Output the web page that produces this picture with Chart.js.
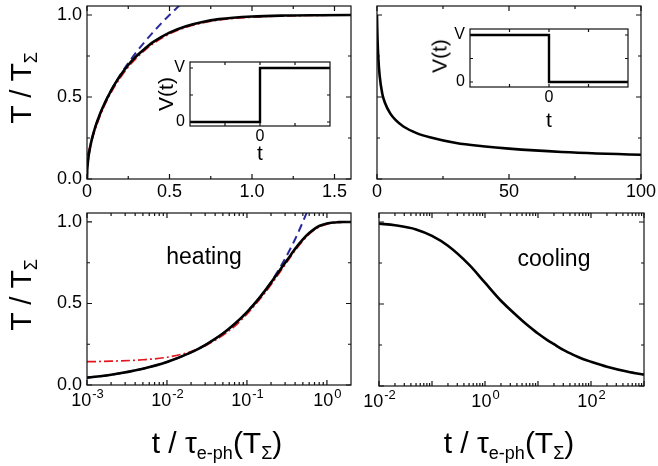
<!DOCTYPE html>
<html>
<head>
<meta charset="utf-8">
<script src="https://cdn.jsdelivr.net/npm/chart.js@4.4.1/dist/chart.umd.min.js"></script>
<style>
  body { margin: 0; background: #fff; }
  #fig { position: relative; width: 658px; height: 466px; overflow: hidden;
         font-family: Arial, "Liberation Sans", Helvetica, sans-serif; color: #000; }
  #fig canvas { position: absolute; left: 0; top: 0; }
  .lbl { position: absolute; white-space: nowrap; line-height: 1; transform: translate(-50%, -50%); }
  .rot { transform: translate(-50%, -50%) rotate(-90deg); }
  .lbl sub { font-size: 60%; line-height: 0; vertical-align: -0.35em; }
</style>
</head>
<body>
<div id="fig">
  <canvas id="tl" width="658" height="466"></canvas>
  <canvas id="tr" width="658" height="466"></canvas>
  <canvas id="bl" width="658" height="466"></canvas>
  <canvas id="br" width="658" height="466"></canvas>
  <canvas id="tlInset" width="658" height="466"></canvas>
  <canvas id="trInset" width="658" height="466"></canvas>

  <div class="lbl rot" style="left:21px; top:88px; font-size:30px;">T / T<sub>Σ</sub></div>
  <div class="lbl rot" style="left:21px; top:295px; font-size:30px;">T / T<sub>Σ</sub></div>
  <div class="lbl" style="left:217px; top:443px; font-size:30px;">t / τ<sub>e-ph</sub>(T<sub>Σ</sub>)</div>
  <div class="lbl" style="left:509px; top:443px; font-size:30px;">t / τ<sub>e-ph</sub>(T<sub>Σ</sub>)</div>

  <div class="lbl" style="left:204px; top:256px; font-size:23px;">heating</div>
  <div class="lbl" style="left:554px; top:258px; font-size:23px;">cooling</div>

  <div class="lbl rot" style="left:165px; top:94px; font-size:21px;">V(t)</div>
  <div class="lbl" style="left:260px; top:152px; font-size:21px;">t</div>
  <div class="lbl rot" style="left:439px; top:56px; font-size:21px;">V(t)</div>
  <div class="lbl" style="left:549px; top:119px; font-size:21px;">t</div>
</div>

<script>
// heating (step on): time in units of tau_e-ph(T_Sigma)
const heatTime  = [0, 0.001, 0.002, 0.005, 0.01, 0.02, 0.03, 0.05, 0.07, 0.1, 0.15, 0.2, 0.25, 0.3, 0.35, 0.4, 0.5, 0.6, 0.7, 0.8, 1.0, 1.2, 1.4, 1.6, 2.0];
const heatExact = [0, 0.045, 0.063, 0.10, 0.141, 0.2, 0.245, 0.316, 0.374, 0.447, 0.547, 0.628, 0.695, 0.75, 0.795, 0.835, 0.893, 0.932, 0.958, 0.975, 0.991, 0.997, 0.999, 1.0, 1.0];
const heatLateFit = [0.14, 0.143, 0.146, 0.155, 0.17, 0.205, 0.24, 0.305, 0.36, 0.435, 0.535, 0.615, 0.683, 0.738, 0.785, 0.825, 0.885, 0.925, 0.952, 0.97, 0.987, 0.995, 0.998, 0.999, 1.0];

// early-time (sqrt) approximation, dashed blue
const earlyTime = [0, 0.001, 0.002, 0.005, 0.01, 0.02, 0.03, 0.05, 0.07, 0.1, 0.15, 0.2, 0.25, 0.3, 0.35, 0.4, 0.45, 0.5, 0.55, 0.6];
const earlyFit  = [0, 0.045, 0.063, 0.1, 0.141, 0.2, 0.245, 0.316, 0.374, 0.447, 0.548, 0.632, 0.707, 0.775, 0.837, 0.894, 0.949, 1.0, 1.049, 1.095];

// cooling (step off)
const coolTime = [0, 0.01, 0.02, 0.05, 0.1, 0.2, 0.5, 1, 2, 3, 5, 7, 10, 15, 20, 30, 40, 50, 70, 100, 200, 500, 1000];
const coolExact = [1.0, 0.99, 0.98, 0.955, 0.915, 0.855, 0.74, 0.63, 0.52, 0.465, 0.40, 0.36, 0.32, 0.28, 0.255, 0.22, 0.20, 0.185, 0.165, 0.148, 0.118, 0.087, 0.069];

// inset pulse shapes
const pulseTime = [-1, 0, 0, 1];
const pulseOn   = [0, 0, 1, 1];
const pulseOff  = [1, 1, 0, 0];

// ticks
const yTicks = [0, 0.5, 1.0];
const yMinorTicks = [0.25, 0.75];
const yTickLabels = ['0.0', '0.5', '1.0'];
const heatLinTicks = [0, 0.5, 1.0, 1.5];
const heatLinMinor = [0.25, 0.75, 1.25];
const heatLinLabels = ['0', '0.5', '1.0', '1.5'];
const coolLinTicks = [0, 50, 100];
const coolLinMinor = [25, 75];
const coolLinLabels = ['0', '50', '100'];
const heatDecades = [-3, -2, -1, 0];
const heatDecadeLabels = [-3, -2, -1, 0];
const coolDecades = [-2, -1, 0, 1, 2, 3];
const coolDecadeLabels = [-2, 0, 2];
const insetYTicks = [0, 1];
const insetYLabels = ['0', 'V'];

const W = 658, H = 466;
const FONT = 'Arial, "Liberation Sans", Helvetica, sans-serif';

function pts(xs, ys, logOnly) {
  const out = xs.map((x, i) => ({ x: x, y: ys[i] }));
  return logOnly ? out.filter(p => p.x > 0) : out;
}

function logMinor(decades, min, max) {
  const out = [];
  for (let k = decades[0] - 1; k <= decades[decades.length - 1]; k++) {
    for (let m = 2; m <= 9; m++) {
      const v = m * Math.pow(10, k);
      if (v > min && v < max) out.push(v);
    }
  }
  return out;
}

// frame with inward ticks on all four sides + tick labels
const framePlugin = {
  id: 'frame',
  afterDatasetsDraw(chart, args, o) {
    const { ctx, chartArea: a } = chart;
    const xs = chart.scales.x, ys = chart.scales.y;
    ctx.save();
    ctx.strokeStyle = '#111';
    ctx.lineWidth = 1.2;
    ctx.strokeRect(a.left, a.top, a.right - a.left, a.bottom - a.top);

    ctx.beginPath();
    const xt = (v, len) => {
      const p = xs.getPixelForValue(v);
      ctx.moveTo(p, a.bottom); ctx.lineTo(p, a.bottom - len);
      ctx.moveTo(p, a.top); ctx.lineTo(p, a.top + len);
    };
    const yt = (v, len) => {
      const p = ys.getPixelForValue(v);
      ctx.moveTo(a.left, p); ctx.lineTo(a.left + len, p);
      ctx.moveTo(a.right, p); ctx.lineTo(a.right - len, p);
    };
    (o.xMajor || []).forEach(v => xt(v, o.major));
    (o.xMinor || []).forEach(v => xt(v, o.minor));
    (o.yMajor || []).forEach(v => yt(v, o.major));
    (o.yMinor || []).forEach(v => yt(v, o.minor));
    ctx.stroke();

    ctx.fillStyle = '#000';
    ctx.font = o.fontSize + 'px ' + FONT;
    ctx.textAlign = 'center';
    ctx.textBaseline = 'top';
    (o.xLabels || []).forEach((t, i) => {
      ctx.fillText(t, xs.getPixelForValue(o.xLabelAt[i]), a.bottom + o.xPad);
    });
    (o.xPowers || []).forEach(e => {
      const p = xs.getPixelForValue(Math.pow(10, e));
      const small = Math.round(o.fontSize * 0.7) + 'px ' + FONT;
      ctx.font = o.fontSize + 'px ' + FONT;
      const wBase = ctx.measureText('10').width;
      ctx.font = small;
      const wExp = ctx.measureText(String(e)).width;
      const x0 = p - (wBase + wExp) / 2;
      ctx.textAlign = 'left';
      ctx.font = o.fontSize + 'px ' + FONT;
      ctx.fillText('10', x0, a.bottom + o.xPad + 3);
      ctx.font = small;
      ctx.fillText(String(e), x0 + wBase + 1, a.bottom + o.xPad - 1);
    });
    ctx.font = o.fontSize + 'px ' + FONT;
    ctx.textAlign = 'right';
    ctx.textBaseline = 'middle';
    (o.yLabels || []).forEach((t, i) => {
      ctx.fillText(t, a.left - o.yPad, ys.getPixelForValue(o.yLabelAt[i]));
    });
    ctx.restore();
  }
};

function panel(id, box, xScale, yScale, datasets, frame) {
  return new Chart(document.getElementById(id), {
    type: 'line',
    data: { datasets: datasets },
    options: {
      responsive: false,
      animation: false,
      events: [],
      layout: { padding: { left: box[0], top: box[1], right: W - box[2], bottom: H - box[3] } },
      plugins: { legend: { display: false }, tooltip: { enabled: false }, frame: frame },
      scales: {
        x: Object.assign({ display: false }, xScale),
        y: Object.assign({ type: 'linear', display: false }, yScale)
      },
      elements: { point: { radius: 0 }, line: { cubicInterpolationMode: 'monotone' } }
    },
    plugins: [framePlugin]
  });
}

const solid = { borderColor: '#000', borderWidth: 2.6, clip: 0 };
const dashBlue = { borderColor: '#2a2a9c', borderWidth: 2, borderDash: [8, 5], clip: 0 };
const dashRed = { borderColor: '#e3161e', borderWidth: 1.7, borderDash: [9, 3, 2, 3], clip: 0 };
const mainY = { min: 0, max: 1.055 };

const yFrame = { yMajor: yTicks, yMinor: yMinorTicks, major: 5, minor: 3, fontSize: 18, xPad: 4, yPad: 5 };

// top left: heating, linear time
panel('tl', [87, 6, 351, 179], { type: 'linear', min: 0, max: 1.6 }, mainY, [
  Object.assign({ data: pts(heatTime, heatExact) }, solid),
  Object.assign({ data: pts(heatTime, heatLateFit) }, dashRed),
  Object.assign({ data: pts(earlyTime, earlyFit) }, dashBlue)
], Object.assign({}, yFrame, {
  xMajor: heatLinTicks, xMinor: heatLinMinor, xLabels: heatLinLabels, xLabelAt: heatLinTicks,
  yLabels: yTickLabels, yLabelAt: yTicks
}));

// top right: cooling, linear time
panel('tr', [377, 6, 641, 179], { type: 'linear', min: 0, max: 100 }, mainY, [
  Object.assign({ data: pts(coolTime, coolExact) }, solid)
], Object.assign({}, yFrame, {
  xMajor: coolLinTicks, xMinor: coolLinMinor, xLabels: coolLinLabels, xLabelAt: coolLinTicks
}));

// bottom left: heating, log time
panel('bl', [87, 213, 351, 385], { type: 'logarithmic', min: 0.001, max: 2 }, mainY, [
  Object.assign({ data: pts(heatTime, heatExact, true) }, solid),
  Object.assign({ data: pts(heatTime, heatLateFit, true) }, dashRed),
  Object.assign({ data: pts(earlyTime, earlyFit, true) }, dashBlue)
], Object.assign({}, yFrame, {
  xMajor: heatDecades.map(e => Math.pow(10, e)), xMinor: logMinor(heatDecades, 0.001, 2),
  xPowers: heatDecadeLabels, xPad: 4,
  yLabels: yTickLabels, yLabelAt: yTicks
}));

// bottom right: cooling, log time
panel('br', [379, 213, 644, 386], { type: 'logarithmic', min: 0.01, max: 1000 }, mainY, [
  Object.assign({ data: pts(coolTime, coolExact, true) }, solid)
], Object.assign({}, yFrame, {
  xMajor: coolDecades.map(e => Math.pow(10, e)), xMinor: logMinor(coolDecades, 0.01, 1000),
  xPowers: coolDecadeLabels, xPad: 4
}));

// insets: bias pulse V(t)
const insetFrame = {
  xMajor: [0], xMinor: [-0.5, 0.5], yMajor: insetYTicks, yMinor: [0.5], major: 3, minor: 3,
  fontSize: 16, xPad: 3, yPad: 5,
  xLabels: ['0'], xLabelAt: [0], yLabels: insetYLabels, yLabelAt: insetYTicks
};
const step = { borderColor: '#000', borderWidth: 2.4, cubicInterpolationMode: 'default', tension: 0, clip: 2 };

panel('tlInset', [190, 62, 330, 126], { type: 'linear', min: -1, max: 1 }, { min: -0.074, max: 1.111 }, [
  Object.assign({ data: pts(pulseTime, pulseOn) }, step)
], insetFrame);

panel('trInset', [470, 29, 628, 87], { type: 'linear', min: -1, max: 1 }, { min: -0.106, max: 1.128 }, [
  Object.assign({ data: pts(pulseTime, pulseOff) }, step)
], insetFrame);
</script>
</body>
</html>
